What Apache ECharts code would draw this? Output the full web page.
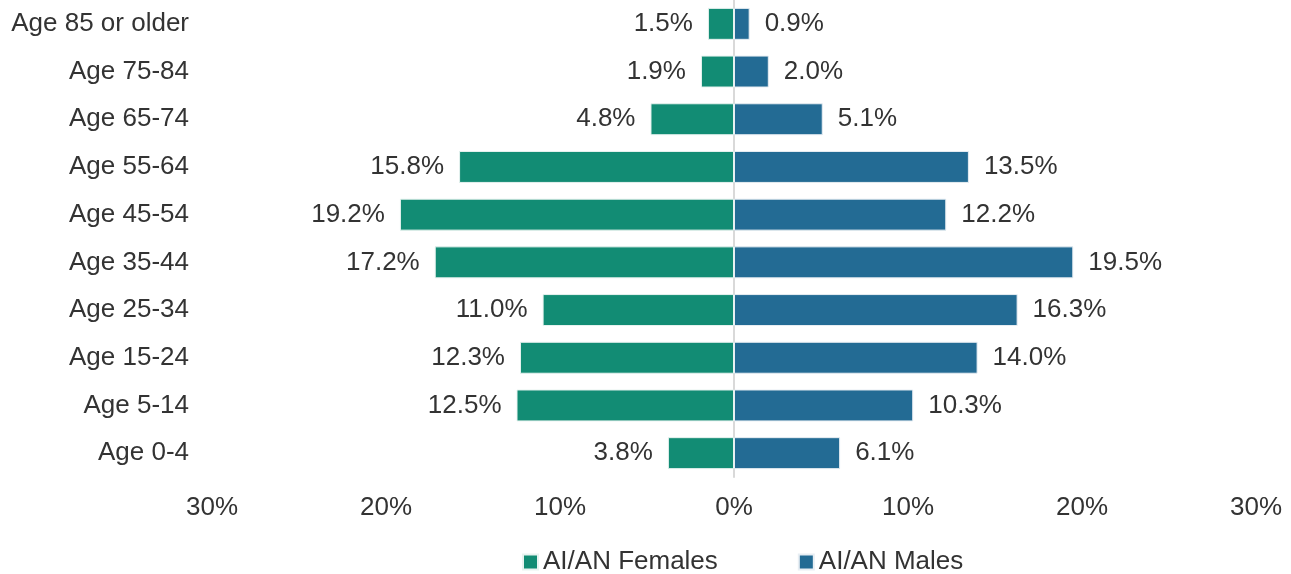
<!DOCTYPE html>
<html>
<head>
<meta charset="utf-8">
<script src="https://cdn.jsdelivr.net/npm/echarts@6/dist/echarts.min.js"></script>
<style>
  html, body { margin: 0; padding: 0; background: #fff; }
  #chart { width: 1291px; height: 574px; }
</style>
</head>
<body>
<div id="chart"></div>
<script>
// age groups, bottom to top
var ageGroups = ['Age 0-4', 'Age 5-14', 'Age 15-24', 'Age 25-34', 'Age 35-44',
                 'Age 45-54', 'Age 55-64', 'Age 65-74', 'Age 75-84', 'Age 85 or older'];
var females = [3.8, 12.5, 12.3, 11.0, 17.2, 19.2, 15.8, 4.8, 1.9, 1.5];
var males = [6.1, 10.3, 14.0, 16.3, 19.5, 12.2, 13.5, 5.1, 2.0, 0.9];

var chart = echarts.init(document.getElementById('chart'));
var font = 'Liberation Sans, Arial, sans-serif';
var fs = 26;

chart.setOption({
    animation: false,
    textStyle: { fontFamily: font },
    legend: {
        top: 544,
        left: 517,
        itemGap: 80,
        itemWidth: 15,
        itemHeight: 15,
        icon: 'rect',
        textStyle: { fontSize: fs, color: '#333', fontFamily: font, padding: [0, 0, 0, 0] },
        data: ['AI/AN Females', 'AI/AN Males']
    },
    grid: { left: 212, right: 35, top: 0, bottom: 97 },
    xAxis: {
        type: 'value',
        min: -30,
        max: 30,
        interval: 10,
        splitLine: { show: false },
        axisLine: { show: false },
        axisTick: { show: false },
        axisLabel: {
            margin: 18,
            fontSize: fs,
            color: '#333',
            fontFamily: font,
            formatter: function (v) { return Math.abs(v) + '%'; }
        }
    },
    yAxis: {
        type: 'category',
        data: ageGroups,
        axisTick: { show: false },
        axisLine: { onZero: true, lineStyle: { color: '#d9d9d9', width: 2 } },
        axisLabel: { margin: 23, fontSize: fs, color: '#333', fontFamily: font }
    },
    series: [
        {
            name: 'AI/AN Females',
            type: 'bar',
            stack: 'pop',
            barCategoryGap: '33%',
            data: females.map(function (v) { return -v; }),
            itemStyle: { color: '#128c74', borderColor: '#e8f3f0', borderWidth: 1 },
            label: {
                show: true,
                position: 'left',
                distance: 15,
                fontSize: fs,
                color: '#333',
                fontFamily: font,
                formatter: function (p) { return Math.abs(p.value).toFixed(1) + '%'; }
            }
        },
        {
            name: 'AI/AN Males',
            type: 'bar',
            stack: 'pop',
            data: males,
            itemStyle: { color: '#236b94', borderColor: '#e8eef3', borderWidth: 1 },
            label: {
                show: true,
                position: 'right',
                distance: 15,
                fontSize: fs,
                color: '#333',
                fontFamily: font,
                formatter: function (p) { return p.value.toFixed(1) + '%'; }
            }
        }
    ]
});
</script>
</body>
</html>
